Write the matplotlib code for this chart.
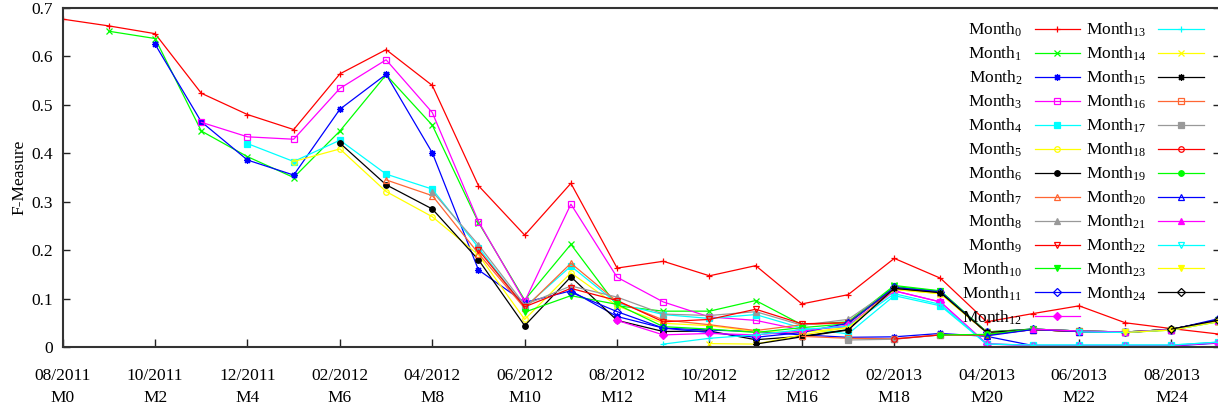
import matplotlib
matplotlib.use("Agg")
import matplotlib.pyplot as plt

plt.rcParams['font.family'] = ['Liberation Serif', 'DejaVu Serif']
plt.rcParams['mathtext.default'] = 'regular'

# ---------------- data ----------------
tick_months = [0, 2, 4, 6, 8, 10, 12, 14, 16, 18, 20, 22, 24]
tick_labels = ['08/2011\nM0', '10/2011\nM2', '12/2011\nM4', '02/2012\nM6',
               '04/2012\nM8', '06/2012\nM10', '08/2012\nM12', '10/2012\nM14',
               '12/2012\nM16', '02/2013\nM18', '04/2013\nM20', '06/2013\nM22',
               '08/2013\nM24']
y_ticks = [0, 0.1, 0.2, 0.3, 0.4, 0.5, 0.6, 0.7]
y_tick_labels = ['0', '0.1', '0.2', '0.3', '0.4', '0.5', '0.6', '0.7']

# each series "Month k" starts at month k and runs to month 25
month0 = [0.677, 0.663, 0.647, 0.524, 0.480, 0.449, 0.564, 0.614, 0.540, 0.333, 0.231, 0.338, 0.163,
          0.177, 0.147, 0.168, 0.089, 0.108, 0.183, 0.142, 0.052, 0.069, 0.085, 0.050, 0.038, 0.027]
month1 = [0.652, 0.637, 0.446, 0.393, 0.350, 0.446, 0.562, 0.458, 0.257, 0.097, 0.212, 0.085,
          0.074, 0.074, 0.096, 0.046, 0.052, 0.127, 0.116, 0.031, 0.037, 0.033, 0.031, 0.036, 0.055]
month2 = [0.625, 0.465, 0.386, 0.355, 0.491, 0.563, 0.401, 0.159, 0.092, 0.116, 0.063,
          0.039, 0.035, 0.032, 0.025, 0.020, 0.021, 0.028, 0.022, 0.003, 0.002, 0.002, 0.002, 0.008]
month3 = [0.464, 0.434, 0.429, 0.534, 0.593, 0.484, 0.259, 0.094, 0.295, 0.144,
          0.093, 0.062, 0.055, 0.035, 0.042, 0.116, 0.093, 0.007, 0.003, 0.003, 0.003, 0.003, 0.009]
month4 = [0.420, 0.383, 0.427, 0.357, 0.326, 0.205, 0.082, 0.167, 0.090,
          0.067, 0.059, 0.067, 0.039, 0.027, 0.106, 0.085, 0.006, 0.004, 0.004, 0.004, 0.004, 0.010]
month5 = [0.383, 0.409, 0.321, 0.269, 0.190, 0.057, 0.153, 0.085,
          0.049, 0.044, 0.032, 0.030, 0.040, 0.119, 0.110, 0.030, 0.036, 0.032, 0.030, 0.035, 0.052]
month6 = [0.421, 0.335, 0.285, 0.180, 0.044, 0.145, 0.055,
          0.032, 0.033, 0.015, 0.022, 0.036, 0.122, 0.113, 0.030, 0.036, 0.032, 0.030, 0.037, 0.054]
month7 = [0.345, 0.3125, 0.193, 0.080, 0.173, 0.094,
          0.056, 0.046, 0.034, 0.046, 0.050, 0.121, 0.112, 0.030, 0.036, 0.032, 0.030, 0.036, 0.053]
month8 = [0.321, 0.211, 0.087, 0.126, 0.103,
          0.068, 0.065, 0.073, 0.045, 0.057, 0.122, 0.113, 0.031, 0.037, 0.033, 0.031, 0.036, 0.054]
month9 = [0.200, 0.083, 0.121, 0.096,
          0.052, 0.057, 0.078, 0.048, 0.050, 0.120, 0.112, 0.030, 0.036, 0.032, 0.030, 0.036, 0.053]
month10 = [0.072, 0.106, 0.088,
           0.042, 0.037, 0.030, 0.040, 0.048, 0.125, 0.115, 0.031, 0.037, 0.033, 0.031, 0.036, 0.055]
month11 = [0.113, 0.073,
           0.039, 0.030, 0.020, 0.030, 0.049, 0.123, 0.114, 0.030, 0.037, 0.033, 0.031, 0.036, 0.058]
month12 = [0.055,
           0.025, 0.028, 0.025, 0.033, 0.045, 0.116, 0.093, 0.006, 0.003, 0.003, 0.003, 0.003, 0.009]
month13 = [0.006, 0.018, 0.025, 0.036, 0.043, 0.110, 0.088, 0.006, 0.004, 0.004, 0.004, 0.004, 0.010]
month14 = [0.007, 0.006, 0.025, 0.040, 0.119, 0.110, 0.030, 0.036, 0.032, 0.030, 0.035, 0.052]
month15 = [0.006, 0.021, 0.035, 0.121, 0.112, 0.030, 0.036, 0.032, 0.030, 0.037, 0.055]
month16 = [0.022, 0.018, 0.017, 0.025, 0.025, 0.036, 0.033, 0.031, 0.036, 0.054]
month17 = [0.0145, 0.016, 0.025, 0.025, 0.036, 0.032, 0.030, 0.036, 0.053]
month18 = [0.0165, 0.025, 0.025, 0.036, 0.032, 0.030, 0.036, 0.053]
month19 = [0.025, 0.026, 0.037, 0.033, 0.031, 0.036, 0.054]
month20 = [0.023, 0.036, 0.032, 0.030, 0.036, 0.056]
month21 = [0.037, 0.033, 0.031, 0.036, 0.054]
month22 = [0.031, 0.030, 0.035, 0.052]
month23 = [0.030, 0.035, 0.052]
month24 = [0.037, 0.055]

series = [month0, month1, month2, month3, month4, month5, month6, month7, month8,
          month9, month10, month11, month12, month13, month14, month15, month16,
          month17, month18, month19, month20, month21, month22, month23, month24]
series_names = ['Month$_{%d}$' % k for k in range(len(series))]

# ---------------- styles (gnuplot-like cycles) ----------------
colors = ['#ff0000', '#00ff00', '#0000ff', '#ff00ff', '#00ffff', '#ffff00',
          '#000000', '#ff6633', '#999999']
markers = [('+', False), ('x', False), ((8, 2, 0), False), ('s', False), ('s', True),
           ('o', False), ('o', True), ('^', False), ('^', True), ('v', False),
           ('v', True), ('D', False), ('D', True)]

W, H = 1218, 408
fig = plt.figure(figsize=(W / 100, H / 100), dpi=100)
x0, x_right, y_bot, y_top = 62.7, 1220.0, 347.0, 8.0
ax = fig.add_axes([x0 / W, 1 - y_bot / H, (x_right - x0) / W, (y_bot - y_top) / H])

for k, vals in enumerate(series):
    xs = list(range(k, k + len(vals)))
    c = colors[k % len(colors)]
    m, filled = markers[k % len(markers)]
    ms = 4.0 if m in ('s', 'o', '^', 'v', 'D') else 5.0
    ax.plot(xs, vals, color=c, lw=0.9, marker=m, markersize=ms,
            markeredgewidth=0.9, markeredgecolor=c,
            markerfacecolor=(c if filled else 'none'),
            label=series_names[k], zorder=2 + k * 0.01)

ax.set_xlim(0, (x_right - x0) / 46.2)
ax.set_ylim(0, 0.7)

ax.set_xticks(tick_months)
ax.set_xticklabels(tick_labels)
ax.set_yticks(y_ticks)
ax.set_yticklabels(y_tick_labels)
for t in ax.get_xticklabels():
    t.set_linespacing(1.5)

ax.tick_params(axis='x', direction='in', length=6, width=1.0, top=False,
               labelsize=12.5, pad=15, color='#222222')
ax.tick_params(axis='y', direction='in', length=5, width=1.0, right=True,
               labelsize=12.5, pad=7, color='#222222')
for s in ax.spines.values():
    s.set_linewidth(1.5)
    s.set_color('#333333')

ax.set_ylabel('F-Measure', fontsize=12.5, labelpad=3)

leg = ax.legend(ncol=2, markerfirst=False, frameon=False, fontsize=12.5,
                loc='upper right', bbox_to_anchor=(1203.5 / W, 1 - 21 / H),
                bbox_transform=fig.transFigure, borderaxespad=0, borderpad=0,
                handlelength=2.6, handletextpad=0.7, columnspacing=0.35,
                labelspacing=0.32)

fig.savefig('out.png', dpi=100)
